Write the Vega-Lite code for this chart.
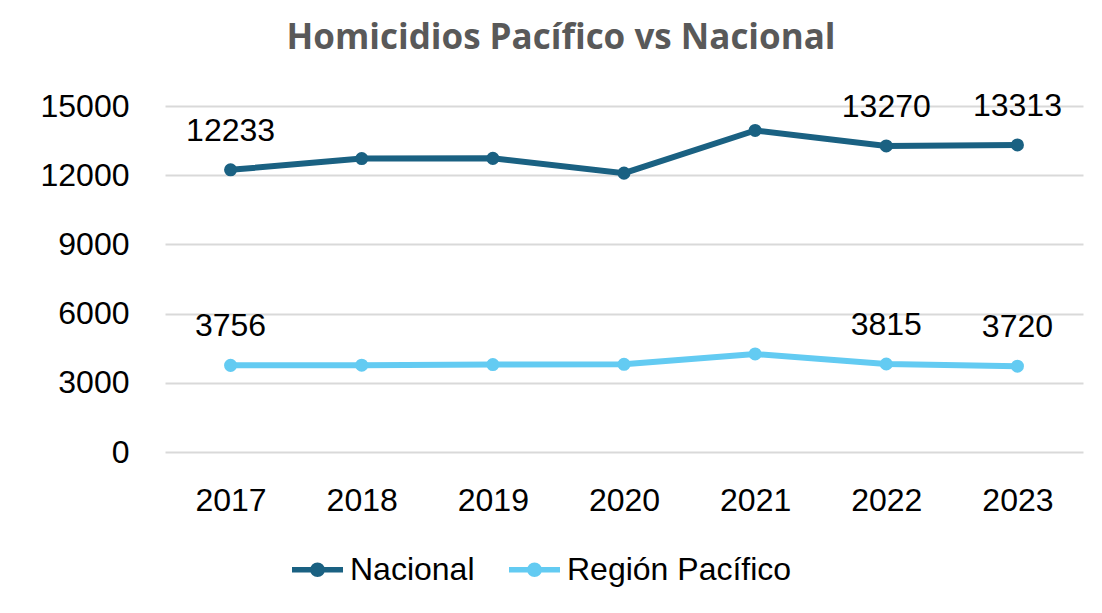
{
  "$schema": "https://vega.github.io/schema/vega-lite/v6.json",
  "width": 918,
  "height": 346,
  "autosize": {"type": "none"},
  "padding": {"left": 165, "top": 106, "right": 19, "bottom": 161},
  "background": "white",
  "title": {
    "text": "Homicidios Pacífico vs Nacional",
    "font": "Open Sans",
    "fontSize": 35,
    "fontWeight": "bold",
    "color": "#595959",
    "anchor": "middle",
    "baseline": "alphabetic",
    "offset": 6,
    "dx": -63
  },
  "data": {
    "values": [
      {"year": "2017", "serie": "Nacional", "value": 12233},
      {"year": "2018", "serie": "Nacional", "value": 12720},
      {"year": "2019", "serie": "Nacional", "value": 12730},
      {"year": "2020", "serie": "Nacional", "value": 12090},
      {"year": "2021", "serie": "Nacional", "value": 13940},
      {"year": "2022", "serie": "Nacional", "value": 13270},
      {"year": "2023", "serie": "Nacional", "value": 13313},
      {"year": "2017", "serie": "Región Pacífico", "value": 3756},
      {"year": "2018", "serie": "Región Pacífico", "value": 3765},
      {"year": "2019", "serie": "Región Pacífico", "value": 3790},
      {"year": "2020", "serie": "Región Pacífico", "value": 3800},
      {"year": "2021", "serie": "Región Pacífico", "value": 4250},
      {"year": "2022", "serie": "Región Pacífico", "value": 3815},
      {"year": "2023", "serie": "Región Pacífico", "value": 3720}
    ]
  },
  "encoding": {
    "x": {
      "field": "year",
      "type": "ordinal",
      "scale": {"type": "point", "padding": 0.5},
      "axis": {
        "title": null,
        "labelAngle": 0,
        "labelFont": "Liberation Sans",
        "labelFontSize": 32,
        "labelColor": "#000000",
        "labelPadding": 33,
        "ticks": false,
        "tickSize": 0,
        "domain": false,
        "grid": false
      }
    },
    "y": {
      "field": "value",
      "type": "quantitative",
      "scale": {"domain": [0, 15000], "nice": false},
      "axis": {
        "title": null,
        "values": [0, 3000, 6000, 9000, 12000, 15000],
        "format": "d",
        "labelFont": "Liberation Sans",
        "labelFontSize": 32,
        "labelColor": "#000000",
        "labelPadding": 36,
        "ticks": false,
        "tickSize": 0,
        "domain": false,
        "grid": true,
        "gridColor": "#d9d9d9",
        "gridWidth": 2
      }
    },
    "color": {
      "field": "serie",
      "type": "nominal",
      "scale": {"domain": ["Nacional", "Región Pacífico"], "range": ["#1a6182", "#63cbf2"]}
    }
  },
  "layer": [
    {
      "mark": {"type": "line", "strokeWidth": 6},
      "encoding": {
        "color": {
          "field": "serie",
          "type": "nominal",
          "scale": {"domain": ["Nacional", "Región Pacífico"], "range": ["#1a6182", "#63cbf2"]},
          "legend": {
            "title": null,
            "orient": "none",
            "legendX": 124,
            "legendY": 435,
            "direction": "horizontal",
            "padding": 0,
            "symbolType": "M -1 0 L 1 0 M 0.18 0 A 0.18 0.18 0 1 1 -0.18 0 A 0.18 0.18 0 1 1 0.18 0 Z",
            "symbolSize": 2601,
            "symbolStrokeWidth": 5.5,
            "labelFont": "Liberation Sans",
            "labelFontSize": 32,
            "labelColor": "#000000",
            "labelOffset": 4,
            "labelLimit": 500,
            "columnPadding": 23,
            "encode": {
              "symbols": {
                "update": {
                  "fill": {"scale": "color", "field": "value"},
                  "stroke": {"scale": "color", "field": "value"},
                  "fillOpacity": {"value": 1}
                }
              }
            }
          }
        }
      }
    },
    {
      "mark": {"type": "point", "filled": true, "size": 170, "opacity": 1}
    },
    {
      "transform": [{"filter": {"field": "year", "oneOf": ["2017", "2022", "2023"]}}],
      "mark": {
        "type": "text",
        "font": "Liberation Sans",
        "fontSize": 32,
        "color": "#000000",
        "baseline": "middle",
        "dy": -39
      },
      "encoding": {
        "text": {"field": "value", "type": "quantitative", "format": "d"},
        "color": {"value": "#000000"}
      }
    }
  ],
  "config": {
    "view": {"stroke": null},
    "font": "Liberation Sans"
  }
}
